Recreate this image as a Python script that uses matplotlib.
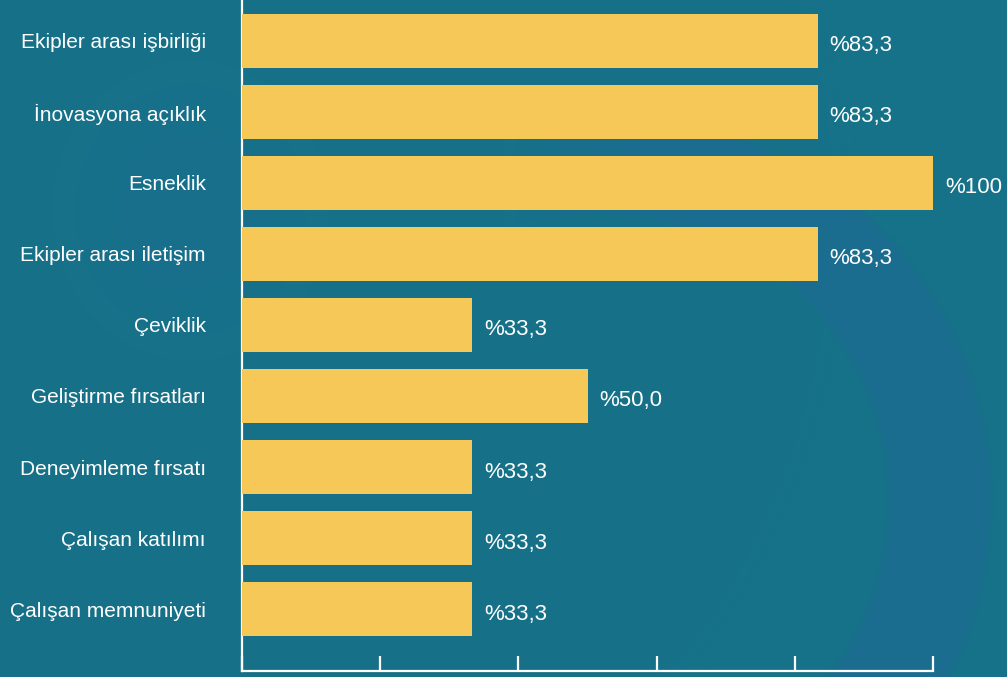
import matplotlib.pyplot as plt
import numpy as np

categories = [
    'Ekipler arası işbirliği',
    'İnovasyona açıklık',
    'Esneklik',
    'Ekipler arası iletişim',
    'Çeviklik',
    'Geliştirme fırsatları',
    'Deneyimleme fırsatı',
    'Çalışan katılımı',
    'Çalışan memnuniyeti',
]
values = [83.3, 83.3, 100, 83.3, 33.3, 50.0, 33.3, 33.3, 33.3]
xticks = [0, 20, 40, 60, 80, 100]

BG = '#167288'
RING = '#1b6d90'
BAR = '#f6c857'

plt.rcParams['font.family'] = ['Liberation Sans', 'DejaVu Sans']

W, H = 1007, 677
fig = plt.figure(figsize=(W / 100, H / 100), dpi=100, facecolor=BG)

# decorative background: soft ring arc on the right and a faint glow top-left
bg = fig.add_axes([0, 0, 1, 1], zorder=-1)
yy, xx = np.mgrid[0:H, 0:W]
d = np.hypot(xx - 603, yy - 500)
edge = 8.0
t = np.clip((d - 286) / edge + 0.5, 0, 1) * np.clip((387 - d) / edge + 0.5, 0, 1)
t *= np.clip((xx - 480) / 180, 0, 1)
glow = 0.6 * np.exp(-(((xx - 190) / 110) ** 2 + ((yy - 210) / 120) ** 2))
t = np.maximum(t, glow)
c0 = np.array([int(BG[i:i + 2], 16) for i in (1, 3, 5)]) / 255
c1 = np.array([int(RING[i:i + 2], 16) for i in (1, 3, 5)]) / 255
img = c0[None, None, :] * (1 - t[..., None]) + c1[None, None, :] * t[..., None]
bg.imshow(img, extent=(0, W, H, 0), aspect='auto', interpolation='bilinear')
bg.axis('off')

ax = fig.add_axes([242 / W, 6 / H, (933 - 242) / W, (H - 6) / H])
ax.set_facecolor('none')

pos = np.arange(len(categories))
ax.barh(pos, values, height=0.76, color=BAR, zorder=3)

ax.set_xlim(0, 100)
ax.set_ylim(8.873, -0.577)

for s in ('top', 'right'):
    ax.spines[s].set_visible(False)
for s in ('left', 'bottom'):
    ax.spines[s].set_color('white')
    ax.spines[s].set_linewidth(1.6)

ax.set_xticks(xticks)
ax.set_xticklabels([])
ax.tick_params(axis='x', direction='in', length=11, width=1.6, color='white')
ax.set_yticks(pos)
ax.set_yticklabels(categories, fontsize=15, color='white')
ax.tick_params(axis='y', length=0, pad=26)

for p, v in zip(pos, values):
    label = '%100' if v == 100 else '%' + f'{v:.1f}'.replace('.', ',')
    ax.annotate(label, xy=(v, p), xytext=(12, -5), textcoords='offset pixels',
                ha='left', va='center', fontsize=16, color='white',
                annotation_clip=False)

fig.savefig('out.png', dpi=100, facecolor=BG)
